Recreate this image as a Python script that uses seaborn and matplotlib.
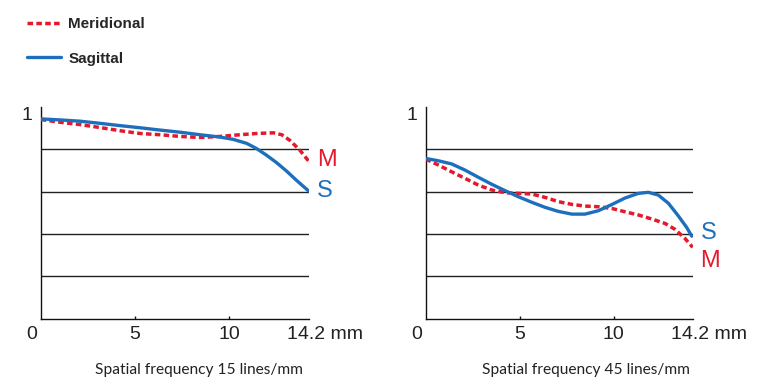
import numpy as np
import pandas as pd
import matplotlib
matplotlib.use("Agg")
import matplotlib.pyplot as plt
import matplotlib.transforms as mtransforms
import seaborn as sns

# ---------------- data ----------------
# Left panel: spatial frequency 15 lines/mm
x15_s = [0.0, 1.02, 2.08, 3.14, 4.2, 5.26, 6.32, 7.38, 8.44, 9.5, 10.21, 10.92, 11.45, 11.97, 12.5, 13.03, 13.56, 14.2]
s15 = [0.944, 0.939, 0.933, 0.923, 0.912, 0.902, 0.891, 0.881, 0.869, 0.858, 0.847, 0.828, 0.803, 0.772, 0.737, 0.697, 0.653, 0.603]
x15_m = [0.0, 1.02, 2.08, 3.14, 4.2, 5.26, 6.32, 7.38, 8.44, 9.5, 10.56, 11.45, 12.33, 12.77, 13.21, 13.74, 14.2]
m15 = [0.941, 0.928, 0.917, 0.903, 0.888, 0.875, 0.869, 0.861, 0.856, 0.861, 0.869, 0.875, 0.878, 0.869, 0.842, 0.795, 0.744]

# Right panel: spatial frequency 45 lines/mm
x45_s = [0.0, 0.67, 1.38, 2.09, 2.8, 3.51, 4.22, 4.93, 5.64, 6.35, 7.05, 7.77, 8.47, 9.18, 9.89, 10.6, 11.31, 11.84, 12.37, 12.91, 13.44, 13.88, 14.15]
s45 = [0.757, 0.746, 0.731, 0.702, 0.668, 0.635, 0.605, 0.576, 0.55, 0.526, 0.507, 0.494, 0.494, 0.51, 0.539, 0.57, 0.592, 0.597, 0.584, 0.545, 0.485, 0.431, 0.39]
x45_m = [0.0, 0.67, 1.38, 2.09, 2.8, 3.51, 4.22, 4.93, 5.64, 6.35, 7.05, 7.77, 8.47, 9.18, 9.89, 10.6, 11.31, 12.02, 12.73, 13.26, 13.79, 14.2]
m45 = [0.754, 0.726, 0.694, 0.663, 0.631, 0.608, 0.595, 0.592, 0.589, 0.573, 0.553, 0.54, 0.532, 0.529, 0.521, 0.505, 0.49, 0.471, 0.45, 0.422, 0.379, 0.337]

x_ticks = [0, 5, 10, 14.2]
x_tick_labels = ["0", "5", "10", "14.2 mm"]
grid_levels = [0.2, 0.4, 0.6, 0.8]
captions = ["Spatial frequency 15 lines/mm", "Spatial frequency 45 lines/mm"]
series_names = ["Meridional", "Sagittal"]

# ---------------- style ----------------
sns.set_theme(style="white")
plt.rcParams["font.family"] = ["Liberation Sans", "DejaVu Sans"]

RED = "#e5182c"
BLUE = "#1d6fbd"
W, H = 759, 391
fig = plt.figure(figsize=(W / 100, H / 100), dpi=100)

def px_box(x0, x1, ytop, ybot):
    return [x0 / W, 1 - ybot / H, (x1 - x0) / W, (ybot - ytop) / H]

ax1 = fig.add_axes(px_box(40.7, 308.7, 107.0, 318.7))
ax2 = fig.add_axes(px_box(425.7, 692.7, 107.0, 318.7))

panels = [
    (ax1, x15_m, m15, x15_s, s15, (0.75, 0.603)),
    (ax2, x45_m, m45, x45_s, s45, (0.272, 0.405)),
]

for i, (ax, xm, ym, xs, ys, lab_y) in enumerate(panels):
    df = pd.concat([
        pd.DataFrame({"x": xm, "y": ym, "series": series_names[0]}),
        pd.DataFrame({"x": xs, "y": ys, "series": series_names[1]}),
    ])
    sns.lineplot(data=df[df.series == series_names[0]], x="x", y="y", ax=ax,
                 color=RED, lw=2.5, linestyle=(0, (1.6, 0.95)), zorder=4,
                 label=series_names[0], legend=False)
    sns.lineplot(data=df[df.series == series_names[1]], x="x", y="y", ax=ax,
                 color=BLUE, lw=2.4, zorder=5, label=series_names[1], legend=False)
    for g in grid_levels:
        ax.axhline(g, color="#222222", lw=1.0, zorder=1)
    ax.set_xlim(0, 14.2)
    ax.set_ylim(0, 1.0)
    ax.set_xlabel("")
    ax.set_ylabel("")
    ax.set_yticks([])
    for sp in ["top", "right"]:
        ax.spines[sp].set_visible(False)
    for sp in ["left", "bottom"]:
        ax.spines[sp].set_color("#111111")
        ax.spines[sp].set_linewidth(1.0)
    ax.set_xticks(x_ticks)
    ax.set_xticklabels(x_tick_labels)
    ax.tick_params(axis="x", direction="in", length=2.5, width=1.0, color="#111111",
                   pad=5, labelsize=14, labelcolor="#222222", bottom=True)
    ticks = ax.xaxis.get_major_ticks()
    ticks[0].tick1line.set_visible(False)
    ticks[-1].tick1line.set_visible(False)
    # shift first and last tick labels like in the reference
    lbls = ax.get_xticklabels()
    lbls[0].set_transform(lbls[0].get_transform() + mtransforms.ScaledTranslation(-9 / 100, 0, fig.dpi_scale_trans))
    lbls[-1].set_transform(lbls[-1].get_transform() + mtransforms.ScaledTranslation(16 / 100, 0, fig.dpi_scale_trans))
    # "1" on the y axis
    ax.text(-0.45, 0.958, "1", ha="right", va="center", fontsize=14, color="#222222")
    # M / S end labels
    ax.text(14.62, lab_y[0], "M", color=RED, fontsize=17, ha="left", va="center")
    ax.text(14.62, lab_y[1], "S", color=BLUE, fontsize=17, ha="left", va="center")

# captions
fig.text(198.5 / W, 1 - 370 / H, captions[0], ha="center", va="center",
         fontsize=11.2, family=["Lato", "DejaVu Sans"], color="#222222")
fig.text(586 / W, 1 - 370 / H, captions[1], ha="center", va="center",
         fontsize=11.2, family=["Lato", "DejaVu Sans"], color="#222222")

# legend
h, l = ax1.get_legend_handles_labels()
fig.legend(h, l, loc="upper left", bbox_to_anchor=(27 / W, 1 - 17 / H),
           frameon=False, borderpad=0, borderaxespad=0, handlelength=2.2,
           handletextpad=0.5, labelspacing=1.35,
           prop={"weight": "bold", "size": 11})

fig.savefig("out.png", dpi=100)
